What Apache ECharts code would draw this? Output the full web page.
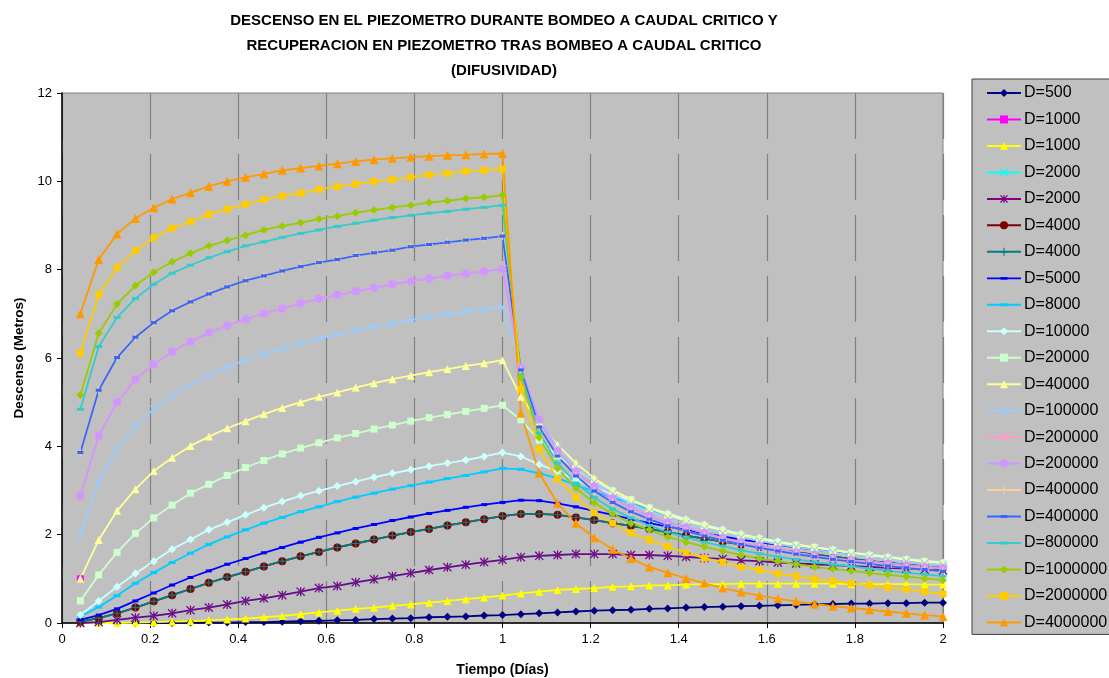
<!DOCTYPE html>
<html>
<head>
<meta charset="utf-8">
<script src="https://cdn.jsdelivr.net/npm/echarts@6/dist/echarts.min.js"></script>
<style>
  html, body { margin: 0; padding: 0; background: #ffffff; }
  #chart { width: 1109px; height: 678px; }
</style>
</head>
<body>
<div id="chart"></div>
<script>
// Tiempo (días): one reading per hour, 48 hours (24 h bombeo + 24 h recuperación)
const tiempo = [0.0417,0.0833,0.125,0.1667,0.2083,0.25,0.2917,0.3333,0.375,0.4167,0.4583,0.5,
  0.5417,0.5833,0.625,0.6667,0.7083,0.75,0.7917,0.8333,0.875,0.9167,0.9583,1,
  1.0417,1.0833,1.125,1.1667,1.2083,1.25,1.2917,1.3333,1.375,1.4167,1.4583,1.5,
  1.5417,1.5833,1.625,1.6667,1.7083,1.75,1.7917,1.8333,1.875,1.9167,1.9583,2];

// Descenso (m) for each difusividad D
const d500 = [0,0,0,0,0,0,0.01,0.01,0.01,0.02,0.02,0.03,0.04,0.05,0.06,0.07,0.09,0.10,0.11,0.13,0.14,0.15,0.17,0.18,
  0.20,0.22,0.24,0.26,0.28,0.29,0.30,0.32,0.33,0.35,0.36,0.37,0.38,0.39,0.40,0.41,0.42,0.43,0.44,0.44,0.45,0.45,0.46,0.46];
const d1000 = [0,0,0,0.01,0.02,0.03,0.04,0.06,0.08,0.10,0.13,0.16,0.20,0.24,0.28,0.32,0.35,0.39,0.42,0.46,0.50,0.54,0.58,0.62,
  0.67,0.71,0.75,0.77,0.79,0.82,0.83,0.85,0.85,0.87,0.88,0.88,0.89,0.89,0.89,0.89,0.89,0.89,0.88,0.88,0.88,0.88,0.87,0.87];
const d1000b = [1.0,null,null,null,null,null,null,null,null,null,null,null,null,null,null,null,null,null,null,null,null,null,null,null,
  null,null,null,null,null,null,null,null,null,null,null,null,null,null,null,null,null,null,null,null,null,null,null,null];
const d2000 = [0,0.02,0.07,0.12,0.16,0.22,0.29,0.35,0.42,0.50,0.56,0.63,0.71,0.79,0.84,0.92,0.99,1.06,1.13,1.20,1.26,1.32,1.38,1.43,
  1.49,1.52,1.54,1.56,1.56,1.56,1.54,1.54,1.52,1.50,1.47,1.45,1.42,1.40,1.37,1.35,1.33,1.31,1.29,1.27,1.25,1.23,1.21,1.19];
const d4000 = [0.03,0.11,0.22,0.35,0.49,0.63,0.77,0.91,1.04,1.16,1.28,1.40,1.51,1.61,1.71,1.80,1.89,1.98,2.06,2.13,2.21,2.28,2.35,2.42,
  2.47,2.47,2.45,2.39,2.33,2.26,2.20,2.13,2.06,1.98,1.91,1.84,1.78,1.72,1.66,1.60,1.55,1.50,1.45,1.40,1.36,1.32,1.28,1.24];
const d5000 = [0.07,0.18,0.32,0.50,0.68,0.86,1.03,1.18,1.33,1.46,1.59,1.71,1.83,1.94,2.04,2.14,2.23,2.32,2.40,2.48,2.55,2.62,2.68,2.73,
  2.78,2.77,2.71,2.63,2.54,2.45,2.35,2.26,2.18,2.11,2.03,1.96,1.89,1.83,1.77,1.71,1.66,1.61,1.56,1.51,1.46,1.42,1.38,1.34];
const d8000 = [0.15,0.36,0.62,0.90,1.14,1.37,1.58,1.78,1.95,2.11,2.26,2.39,2.52,2.63,2.75,2.85,2.94,3.03,3.11,3.19,3.27,3.34,3.42,3.50,
  3.48,3.39,3.28,3.12,2.98,2.84,2.71,2.58,2.45,2.33,2.22,2.12,2.02,1.93,1.85,1.77,1.70,1.64,1.58,1.52,1.47,1.42,1.38,1.34];
const d10000 = [0.18,0.50,0.82,1.12,1.40,1.67,1.89,2.11,2.28,2.45,2.61,2.75,2.88,2.99,3.10,3.20,3.30,3.39,3.47,3.55,3.62,3.69,3.77,3.86,
  3.77,3.59,3.43,3.24,3.07,2.92,2.77,2.62,2.48,2.35,2.23,2.12,2.02,1.93,1.85,1.78,1.72,1.66,1.60,1.55,1.50,1.45,1.41,1.37];
const d20000 = [0.50,1.09,1.60,2.03,2.38,2.67,2.94,3.14,3.34,3.52,3.68,3.83,3.96,4.08,4.19,4.29,4.39,4.48,4.57,4.65,4.72,4.79,4.86,4.93,
  4.60,4.14,3.78,3.48,3.22,2.99,2.79,2.60,2.45,2.31,2.20,2.09,1.99,1.90,1.82,1.76,1.71,1.65,1.59,1.53,1.48,1.43,1.39,1.35];
const d40000 = [1.00,1.88,2.54,3.03,3.44,3.74,4.01,4.22,4.41,4.57,4.73,4.87,5.00,5.12,5.22,5.33,5.43,5.52,5.60,5.68,5.75,5.82,5.88,5.95,
  5.12,4.55,4.03,3.62,3.28,3.01,2.80,2.61,2.46,2.32,2.21,2.10,2.00,1.91,1.83,1.76,1.71,1.65,1.59,1.53,1.48,1.43,1.39,1.35];
const d100000 = [2.01,3.20,3.95,4.46,4.84,5.15,5.39,5.61,5.80,5.95,6.09,6.22,6.33,6.45,6.52,6.62,6.71,6.78,6.86,6.93,6.99,7.05,7.11,7.16,
  5.80,4.62,3.98,3.53,3.19,2.92,2.70,2.52,2.37,2.24,2.13,2.03,1.94,1.86,1.78,1.72,1.66,1.60,1.54,1.49,1.44,1.39,1.35,1.31];
const d200000 = [2.88,4.24,5.00,5.52,5.86,6.14,6.37,6.57,6.73,6.88,7.01,7.12,7.24,7.34,7.43,7.51,7.59,7.67,7.74,7.80,7.86,7.91,7.96,8.01,
  5.78,4.60,3.90,3.43,3.09,2.82,2.60,2.42,2.27,2.16,2.04,1.92,1.82,1.74,1.67,1.59,1.52,1.46,1.42,1.39,1.35,1.31,1.27,1.24];
const d400000 = [3.86,5.27,6.01,6.47,6.80,7.07,7.27,7.45,7.61,7.75,7.86,7.97,8.07,8.16,8.23,8.32,8.38,8.44,8.52,8.57,8.62,8.67,8.71,8.76,
  5.73,4.44,3.78,3.33,2.99,2.73,2.52,2.35,2.20,2.08,1.97,1.87,1.78,1.70,1.63,1.56,1.50,1.44,1.39,1.34,1.29,1.25,1.21,1.17];
const d800000 = [4.84,6.26,6.92,7.35,7.67,7.92,8.10,8.27,8.41,8.54,8.63,8.73,8.82,8.90,8.98,9.05,9.12,9.18,9.23,9.28,9.32,9.37,9.41,9.46,
  5.62,4.30,3.62,3.17,2.84,2.58,2.38,2.21,2.06,1.94,1.83,1.74,1.65,1.57,1.50,1.44,1.38,1.33,1.28,1.23,1.18,1.14,1.10,1.06];
const d1000000 = [5.16,6.56,7.22,7.64,7.94,8.18,8.37,8.54,8.66,8.78,8.90,8.99,9.06,9.15,9.21,9.29,9.35,9.41,9.46,9.52,9.56,9.61,9.64,9.69,
  5.56,4.20,3.50,3.05,2.72,2.47,2.26,2.11,1.95,1.83,1.73,1.63,1.54,1.46,1.40,1.33,1.27,1.22,1.18,1.13,1.09,1.05,1.01,0.97];
const d2000000 = [6.11,7.44,8.05,8.43,8.72,8.94,9.09,9.25,9.37,9.48,9.59,9.67,9.73,9.82,9.88,9.94,10.00,10.04,10.09,10.15,10.18,10.23,10.25,10.28,
  5.30,3.93,3.26,2.84,2.50,2.26,2.04,1.88,1.73,1.59,1.47,1.38,1.27,1.20,1.12,1.06,1.00,0.95,0.90,0.85,0.80,0.76,0.71,0.66];
const d4000000 = [7.00,8.23,8.81,9.16,9.40,9.60,9.74,9.89,10.00,10.09,10.17,10.25,10.30,10.35,10.40,10.45,10.49,10.52,10.55,10.57,10.59,10.60,10.62,10.63,
  4.75,3.39,2.71,2.26,1.93,1.67,1.46,1.27,1.14,1.01,0.90,0.79,0.70,0.62,0.55,0.49,0.43,0.38,0.34,0.30,0.26,0.22,0.18,0.15];

const yTicks = [0, 2, 4, 6, 8, 10, 12];
const xTicks = [0, 0.2, 0.4, 0.6, 0.8, 1, 1.2, 1.4, 1.6, 1.8, 2];

// marker shapes
const SYM_X = 'path://M1,0L5,4L9,0L10,1L6,5L10,9L9,10L5,6L1,10L0,9L4,5L0,1Z';
const SYM_STAR = 'path://M1,0L5,4L9,0L10,1L6,5L10,9L9,10L5,6L1,10L0,9L4,5L0,1Z M4.3,0H5.7V10H4.3Z';
const SYM_PLUS = 'path://M4.3,0H5.7V4.3H10V5.7H5.7V10H4.3V5.7H0V4.3H4.3Z';
// legend icon for the dash-marker series: line with a short bar in the middle
// (two invisible corner specks fix the icon's bounding box to 34x10)
const LEGEND_DASH = 'path://M0,0h0.01v0.01h-0.01Z M33.99,9.99h0.01v0.01h-0.01Z M0,4.1H34V5.9H0Z M13.5,3.6H20.5V6.4H13.5Z';

const seriesDefs = [
  { name: 'D=500',     data: d500,     color: '#000080', symbol: 'diamond', size: 8 },
  { name: 'D=1000',    data: d1000b,   color: '#FF00FF', symbol: 'rect',    size: 7 },
  { name: 'D=1000 ',   data: d1000,    color: '#FFFF00', symbol: 'triangle',size: 8 },
  { name: 'D=2000',    data: d2000,    color: '#00FFFF', symbol: SYM_X,     size: 8 },
  { name: 'D=2000 ',   data: d2000,    color: '#800080', symbol: SYM_STAR,  size: 9 },
  { name: 'D=4000',    data: d4000,    color: '#800000', symbol: 'circle',  size: 8 },
  { name: 'D=4000 ',   data: d4000,    color: '#008080', symbol: SYM_PLUS,  size: 8 },
  { name: 'D=5000',    data: d5000,    color: '#0000FF', symbol: 'rect',    size: [6, 3], dash: true },
  { name: 'D=8000',    data: d8000,    color: '#00CCFF', symbol: 'rect',    size: [7, 3], dash: true },
  { name: 'D=10000',   data: d10000,   color: '#CCFFFF', symbol: 'diamond', size: 8 },
  { name: 'D=20000',   data: d20000,   color: '#CCFFCC', symbol: 'rect',    size: 7 },
  { name: 'D=40000',   data: d40000,   color: '#FFFF99', symbol: 'triangle',size: 8 },
  { name: 'D=100000',  data: d100000,  color: '#99CCFF', symbol: SYM_X,     size: 8 },
  { name: 'D=200000',  data: d200000,  color: '#FF99CC', symbol: SYM_STAR,  size: 9 },
  { name: 'D=200000 ', data: d200000,  color: '#CC99FF', symbol: 'circle',  size: 8 },
  { name: 'D=400000',  data: d400000,  color: '#FFCC99', symbol: SYM_PLUS,  size: 8 },
  { name: 'D=400000 ', data: d400000,  color: '#3366FF', symbol: 'rect',    size: [6, 3], dash: true },
  { name: 'D=800000',  data: d800000,  color: '#33CCCC', symbol: 'rect',    size: [7, 3], dash: true },
  { name: 'D=1000000', data: d1000000, color: '#99CC00', symbol: 'diamond', size: 8 },
  { name: 'D=2000000', data: d2000000, color: '#FFCC00', symbol: 'rect',    size: 7 },
  { name: 'D=4000000', data: d4000000, color: '#FF9900', symbol: 'triangle',size: 9 }
];

const FONT = "'Liberation Sans', Arial, sans-serif";

const series = seriesDefs.map(s => ({
  name: s.name,
  type: 'line',
  data: tiempo.map((t, i) => [t, s.data[i]]),
  symbol: s.symbol,
  symbolSize: s.size,
  showAllSymbol: true,
  connectNulls: false,
  lineStyle: { color: s.color, width: 1.8 },
  itemStyle: { color: s.color, borderWidth: 0 },
  emphasis: { disabled: true }
}));

const chart = echarts.init(document.getElementById('chart'), null, { renderer: 'canvas' });
chart.setOption({
  animation: false,
  backgroundColor: '#ffffff',
  title: {
    text: 'DESCENSO EN EL PIEZOMETRO DURANTE BOMDEO A CAUDAL CRITICO Y\nRECUPERACION EN PIEZOMETRO TRAS BOMBEO A CAUDAL CRITICO\n(DIFUSIVIDAD)',
    left: 499,
    top: 3,
    textAlign: 'center',
    textStyle: { fontFamily: FONT, fontSize: 15, fontWeight: 'bold', color: '#000', lineHeight: 25 }
  },
  grid: {
    left: 62, top: 93, right: 166, bottom: 55,
    outerBoundsMode: 'none',
    containLabel: false,
    show: true,
    backgroundColor: '#C0C0C0',
    borderColor: '#808080',
    borderWidth: 1
  },
  legend: {
    orient: 'vertical',
    left: 972,
    top: 79,
    padding: [6, 40, 4, 14],
    itemWidth: 34,
    itemHeight: 10,
    itemGap: 10.47,
    backgroundColor: '#C0C0C0',
    borderColor: '#404040',
    borderWidth: 1,
    selectedMode: false,
    textStyle: { fontFamily: FONT, fontSize: 16, lineHeight: 16, color: '#000', padding: [0, 0, 0, -2] },
    formatter: n => n.trim(),
    data: seriesDefs.map(s => (s.dash ? { name: s.name, icon: LEGEND_DASH } : { name: s.name }))
  },
  xAxis: {
    type: 'value',
    min: 0, max: 2, interval: 0.2,
    name: 'Tiempo (Días)',
    nameLocation: 'middle',
    nameGap: 40,
    nameTextStyle: { fontFamily: FONT, fontSize: 14, fontWeight: 'bold', color: '#000' },
    axisLine: { show: true, onZero: false, lineStyle: { color: '#000', width: 1.5 } },
    axisTick: { show: true, inside: false, length: 5, lineStyle: { color: '#000' } },
    axisLabel: {
      margin: 10, fontFamily: FONT, fontSize: 13, color: '#000',
      formatter: v => {
        const m = xTicks.find(x => Math.abs(x - v) < 1e-6);
        return m === undefined ? '' : String(m);
      }
    },
    splitLine: { show: true, lineStyle: { color: '#808080', width: 1.2, type: [46, 15] } }
  },
  yAxis: {
    type: 'value',
    min: 0, max: 12, interval: 2,
    name: 'Descenso (Metros)',
    nameLocation: 'middle',
    nameGap: 36,
    nameTextStyle: { fontFamily: FONT, fontSize: 13.5, fontWeight: 'bold', color: '#000' },
    axisLine: { show: true, onZero: false, lineStyle: { color: '#000', width: 1.5 } },
    axisTick: { show: true, inside: false, length: 5, lineStyle: { color: '#000' } },
    axisLabel: {
      margin: 10, fontFamily: FONT, fontSize: 13, color: '#000',
      formatter: v => (yTicks.indexOf(v) >= 0 ? String(v) : '')
    },
    splitLine: { show: false }
  },
  series: series
});
</script>
</body>
</html>
